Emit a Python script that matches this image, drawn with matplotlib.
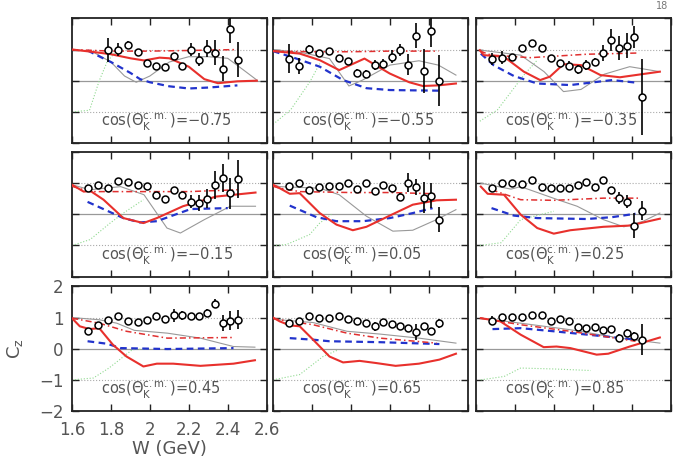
import matplotlib
matplotlib.use("Agg")
from matplotlib import pyplot as plt

# W bins of the measured points (GeV)
W_BINS = [1.68, 1.733, 1.786, 1.838, 1.889, 1.938, 1.986, 2.032, 2.08, 2.123,
          2.166, 2.21, 2.251, 2.292, 2.334, 2.375, 2.414, 2.451]

COS_LABELS = ['−0.75', '−0.55', '−0.35', '−0.15', '0.05', '0.25', '0.45', '0.65', '0.85']

# measured Cz and errors, one pair per angle bin
cz_n075 = [0.98, 1.0, 1.16, 0.93, 0.57, 0.48, 0.45, 0.79, 0.48, 1.0, 0.68, 1.03, 0.90, 0.39, 1.65, 0.68]
dcz_n075 = [0.38, 0.22, 0.1, 0.05, 0.05, 0.05, 0.1, 0.1, 0.1, 0.2, 0.2, 0.27, 0.4, 0.4, 0.45, 0.55]
cz_n055 = [0.71, 0.48, 1.01, 0.89, 0.96, 0.74, 0.63, 0.26, 0.23, 0.5, 0.55, 0.77, 0.98, 0.52, 1.44, 0.31, 1.59, 0.0]
dcz_n055 = [0.46, 0.25, 0.15, 0.07, 0.05, 0.05, 0.07, 0.1, 0.12, 0.15, 0.15, 0.2, 0.2, 0.35, 0.4, 0.72, 0.5, 0.82]
cz_n035 = [0.69, 0.74, 0.77, 1.06, 1.21, 1.06, 0.74, 0.57, 0.48, 0.36, 0.5, 0.6, 0.89, 1.30, 1.05, 1.12, 1.40, -0.51]
dcz_n035 = [0.2, 0.2, 0.1, 0.04, 0.04, 0.04, 0.07, 0.1, 0.15, 0.15, 0.15, 0.12, 0.25, 0.35, 0.4, 0.4, 0.35, 1.22]
cz_n015 = [0.84, 0.95, 0.86, 1.07, 1.05, 0.95, 0.91, 0.61, 0.49, 0.79, 0.63, 0.41, 0.36, 0.5, 0.93, 1.18, 0.68, 1.14]
dcz_n015 = [0.08, 0.05, 0.05, 0.03, 0.03, 0.03, 0.03, 0.05, 0.07, 0.07, 0.1, 0.2, 0.25, 0.3, 0.45, 0.45, 0.5, 0.6]
cz_p005 = [0.91, 1.02, 0.79, 0.89, 0.91, 0.91, 1.0, 0.81, 1.0, 0.76, 0.93, 0.86, 0.57, 1.02, 0.87, 0.54, 0.6, -0.17]
dcz_p005 = [0.05, 0.05, 0.05, 0.04, 0.04, 0.04, 0.04, 0.05, 0.05, 0.05, 0.06, 0.08, 0.1, 0.3, 0.25, 0.5, 0.4, 0.4]
cz_p025 = [0.84, 1.0, 1.0, 0.97, 1.09, 0.89, 0.84, 0.86, 0.86, 0.95, 1.05, 0.89, 1.09, 0.79, 0.52, 0.41, -0.36, 0.12]
dcz_p025 = [0.1, 0.04, 0.04, 0.04, 0.04, 0.04, 0.04, 0.04, 0.04, 0.04, 0.05, 0.05, 0.07, 0.1, 0.2, 0.2, 0.4, 0.3]
cz_p045 = [0.56, 0.76, 0.92, 1.04, 0.9, 0.86, 0.93, 1.04, 0.96, 1.07, 1.07, 1.05, 1.06, 1.16, 1.45, 0.82, 0.9, 0.93]
dcz_p045 = [0.1, 0.05, 0.04, 0.04, 0.04, 0.04, 0.04, 0.04, 0.05, 0.2, 0.15, 0.05, 0.05, 0.1, 0.15, 0.25, 0.3, 0.3]
cz_p065 = [0.82, 0.9, 1.04, 1.0, 0.98, 1.04, 0.95, 0.9, 0.84, 0.72, 0.86, 0.79, 0.74, 0.66, 0.53, 0.72, 0.56, 0.82]
dcz_p065 = [0.07, 0.05, 0.03, 0.03, 0.03, 0.03, 0.03, 0.03, 0.04, 0.15, 0.04, 0.04, 0.04, 0.05, 0.25, 0.05, 0.1, 0.15]
cz_p085 = [0.9, 1.02, 1.01, 1.02, 1.09, 1.07, 0.9, 0.95, 0.88, 0.7, 0.66, 0.7, 0.59, 0.63, 0.36, 0.52, 0.4, 0.29]
dcz_p085 = [0.15, 0.03, 0.03, 0.03, 0.03, 0.03, 0.03, 0.03, 0.03, 0.03, 0.03, 0.03, 0.04, 0.05, 0.1, 0.1, 0.15, 0.5]

# model curves as (W, Cz) pairs
red_n075 = [(1.6, 1.0), (1.7, 0.93), (1.8, 0.85), (1.9, 0.72), (1.97, 0.65), (2.05, 0.74), (2.1, 0.72),
            (2.2, 0.45), (2.28, 0.05), (2.35, -0.08), (2.45, -0.02), (2.55, 0.0)]
rdd_n075 = [(1.6, 1.0), (1.8, 0.95), (2.0, 0.95), (2.2, 0.97), (2.45, 1.0)]
blu_n075 = [(1.68, 0.97), (1.75, 0.75), (1.8, 0.6), (1.9, 0.25), (1.95, 0.05), (2.0, -0.05), (2.1, -0.18),
            (2.2, -0.25), (2.3, -0.22), (2.45, -0.15)]
gry_n075 = [(1.6, 1.0), (1.7, 0.95), (1.8, 0.6), (1.87, 0.15), (1.93, -0.05), (2.0, 0.15), (2.1, 0.6),
            (2.2, 0.77), (2.3, 0.77), (2.4, 0.72), (2.48, 0.35), (2.55, 0.02)]
grn_n075 = [(1.6, -1.0), (1.69, -0.95), (1.74, 0.0), (1.78, 0.6), (1.82, 0.9)]

red_n055 = [(1.6, 0.95), (1.634, 0.93), (1.737, 0.87), (1.84, 0.66), (1.94, 0.34), (2.07, 0.71), (2.2, 0.23),
            (2.3, -0.05), (2.37, -0.17), (2.45, -0.15), (2.54, -0.09)]
rdd_n055 = [(1.6, 0.95), (1.8, 0.93), (2.0, 0.93), (2.2, 0.95), (2.45, 0.95)]
blu_n055 = [(1.6, 0.95), (1.72, 0.71), (1.84, 0.45), (1.96, 0.02), (2.08, -0.24), (2.2, -0.3), (2.45, -0.32)]
gry_n055 = [(1.6, 1.0), (1.75, 0.9), (1.89, 0.71), (1.99, -0.17), (2.06, 0.02), (2.2, 0.5), (2.35, 0.64),
            (2.45, 0.5), (2.54, 0.18)]
grn_n055 = [(1.6, -1.4), (1.69, -0.94), (1.79, -0.03), (1.84, 0.55)]

red_n035 = [(1.62, 0.98), (1.64, 0.82), (1.744, 0.77), (1.846, 0.29), (1.93, 0.02), (1.98, 0.13), (2.05, 0.53),
            (2.14, 0.5), (2.24, 0.18), (2.34, 0.11), (2.545, 0.29)]
rdd_n035 = [(1.62, 0.95), (1.68, 0.82), (1.88, 0.74), (2.17, 0.85), (2.44, 0.89)]
blu_n035 = [(1.625, 0.87), (1.69, 0.5), (1.795, 0.15), (1.915, -0.09), (2.085, -0.14), (2.3, 0.02), (2.42, -0.06)]
gry_n035 = [(1.625, 0.98), (1.83, 0.82), (1.95, 0.29), (2.05, -0.35), (2.14, -0.28), (2.26, 0.21), (2.39, 0.45),
            (2.545, 0.29)]
grn_n035 = [(1.62, -1.3), (1.71, -0.94), (1.846, 0.18), (1.915, 0.66)]

red_n015 = [(1.6, 0.95), (1.66, 0.73), (1.695, 0.75), (1.762, 0.47), (1.864, -0.12), (1.967, -0.28),
            (2.036, -0.12), (2.17, 0.26), (2.34, 0.57), (2.543, 0.70)]
rdd_n015 = [(1.6, 0.9), (1.693, 0.73), (2.0, 0.73), (2.2, 0.73), (2.45, 0.79)]
blu_n015 = [(1.68, 0.4), (1.864, -0.12), (1.95, -0.26), (2.036, -0.22), (2.21, 0.17), (2.4, 0.2)]
gry_n015 = [(1.6, 0.95), (1.693, 0.79), (1.85, 0.89), (1.97, 0.63), (2.088, -0.44), (2.157, -0.6),
            (2.28, -0.17), (2.414, 0.26), (2.543, 0.26)]
grn_n015 = [(1.6, -1.0), (1.693, -0.81), (1.796, -0.28), (1.864, 0.04), (1.967, 0.47)]

red_p005 = [(1.6, 0.95), (1.634, 0.84), (1.686, 0.66), (1.737, 0.68), (1.84, 0.04), (1.926, -0.33),
            (2.01, -0.51), (2.08, -0.4), (2.2, -0.04), (2.318, 0.31), (2.44, 0.45), (2.54, 0.47)]
rdd_p005 = [(1.6, 0.9), (1.634, 0.84), (1.737, 0.73), (2.0, 0.7), (2.2, 0.7), (2.44, 0.66)]
blu_p005 = [(1.686, 0.28), (1.823, -0.09), (1.926, -0.22), (2.063, -0.22), (2.2, -0.12), (2.318, 0.04), (2.42, 0.2)]
gry_p005 = [(1.6, 0.95), (1.634, 0.89), (1.84, 0.84), (1.94, 0.63), (2.08, -0.06), (2.216, -0.54),
            (2.318, -0.51), (2.44, -0.17), (2.54, 0.15)]
grn_p005 = [(1.6, -1.0), (1.669, -0.97), (1.788, -0.65), (1.84, -0.28), (1.9, 0.0)]

red_p025 = [(1.625, 0.89), (1.66, 0.66), (1.744, 0.63), (1.83, -0.01), (1.915, -0.44), (2.0, -0.62),
            (2.085, -0.51), (2.255, -0.40), (2.39, -0.36), (2.545, -0.14)]
rdd_p025 = [(1.68, 0.79), (1.83, 0.47), (2.0, 0.45), (2.255, 0.52), (2.44, 0.52)]
blu_p025 = [(1.68, 0.2), (1.795, -0.04), (1.915, -0.12), (2.17, -0.15), (2.3, -0.09), (2.42, 0.02)]
gry_p025 = [(1.625, 1.0), (1.78, 0.81), (1.83, 0.89), (2.02, 0.47), (2.12, 0.26), (2.255, -0.17),
            (2.36, -0.40), (2.46, -0.22), (2.545, 0.04)]
grn_p025 = [(1.62, -1.0), (1.73, -0.91), (1.83, -0.17), (2.0, 0.1)]

red_p045 = [(1.6, 0.98), (1.64, 0.72), (1.69, 0.63), (1.74, 0.66), (1.81, 0.13), (1.88, -0.25), (1.967, -0.57),
            (2.036, -0.48), (2.12, -0.48), (2.26, -0.55), (2.43, -0.48), (2.54, -0.37)]
rdd_p045 = [(1.6, 0.98), (1.74, 0.82), (1.88, 0.56), (2.09, 0.34), (2.43, 0.36)]
blu_p045 = [(1.68, 0.24), (1.78, 0.16), (1.85, 0.02), (2.09, -0.01), (2.43, 0.02)]
gry_p045 = [(1.6, 1.0), (1.74, 0.93), (1.83, 0.82), (1.92, 0.59), (2.09, 0.5), (2.26, 0.34), (2.43, 0.07),
            (2.54, 0.05)]
grn_p045 = [(1.6, -1.0), (1.71, -0.94), (1.79, -0.62), (1.91, -0.03), (2.0, 0.0)]

red_p065 = [(1.6, 1.0), (1.634, 0.88), (1.686, 0.75), (1.737, 0.72), (1.806, 0.29), (1.89, -0.25), (1.96, -0.44),
            (2.045, -0.39), (2.13, -0.46), (2.23, -0.55), (2.35, -0.48), (2.455, -0.35), (2.54, -0.16)]
rdd_p065 = [(1.6, 0.97), (1.634, 0.93), (1.806, 0.77), (1.98, 0.5), (2.15, 0.34), (2.44, 0.18)]
blu_p065 = [(1.686, 0.34), (1.806, 0.29), (1.89, 0.24), (2.15, 0.21), (2.455, 0.15)]
gry_p065 = [(1.6, 0.97), (1.634, 0.93), (1.806, 0.84), (1.98, 0.56), (2.15, 0.47), (2.35, 0.34), (2.54, 0.18)]
grn_p065 = [(1.6, -1.0), (1.737, -0.83), (1.857, -0.25), (1.93, -0.05)]

red_p085 = [(1.625, 0.98), (1.725, 0.88), (1.83, 0.45), (1.948, 0.05), (2.014, 0.07), (2.085, 0.02),
            (2.22, -0.19), (2.28, -0.16), (2.39, 0.07), (2.545, 0.36)]
rdd_p085 = [(1.625, 0.98), (1.83, 0.77), (2.085, 0.56), (2.42, 0.24)]
blu_p085 = [(1.685, 0.63), (1.83, 0.66), (2.0, 0.56), (2.255, 0.4), (2.42, 0.29)]
gry_p085 = [(1.625, 0.98), (1.83, 0.82), (2.085, 0.61), (2.34, 0.34), (2.545, 0.18)]
grn_p085 = [(1.625, -1.0), (1.745, -0.89), (1.83, -0.62), (2.0, -0.65), (2.19, -0.7)]

PANELS = [
    (cz_n075, dcz_n075, red_n075, rdd_n075, blu_n075, gry_n075, grn_n075),
    (cz_n055, dcz_n055, red_n055, rdd_n055, blu_n055, gry_n055, grn_n055),
    (cz_n035, dcz_n035, red_n035, rdd_n035, blu_n035, gry_n035, grn_n035),
    (cz_n015, dcz_n015, red_n015, rdd_n015, blu_n015, gry_n015, grn_n015),
    (cz_p005, dcz_p005, red_p005, rdd_p005, blu_p005, gry_p005, grn_p005),
    (cz_p025, dcz_p025, red_p025, rdd_p025, blu_p025, gry_p025, grn_p025),
    (cz_p045, dcz_p045, red_p045, rdd_p045, blu_p045, gry_p045, grn_p045),
    (cz_p065, dcz_p065, red_p065, rdd_p065, blu_p065, gry_p065, grn_p065),
    (cz_p085, dcz_p085, red_p085, rdd_p085, blu_p085, gry_p085, grn_p085),
]

TEXT = '#555555'
LEFTS = [0.1062, 0.4027, 0.702]
BOTTOMS = [0.6878, 0.396, 0.1026]
WIDTH, HEIGHT = 0.287, 0.272


def xy(curve):
    return [p[0] for p in curve], [p[1] for p in curve]


def main():
    fig = plt.figure(figsize=(6.78, 4.58), dpi=100)

    for i, (cz, dcz, red, rdd, blu, gry, grn) in enumerate(PANELS):
        row, col = divmod(i, 3)
        ax = fig.add_axes([LEFTS[col], BOTTOMS[row], WIDTH, HEIGHT])
        ax.set_xlim(1.6, 2.6)
        ax.set_ylim(-2, 2)

        ax.axhline(0, color='#999999', lw=0.9, zorder=1)
        ax.axhline(1, color='#aaaaaa', lw=0.8, ls=':', zorder=1)
        ax.axhline(-1, color='#aaaaaa', lw=0.8, ls=':', zorder=1)

        ax.plot(*xy(grn), color='#8fd98f', lw=0.8, ls=':', zorder=2)
        ax.plot(*xy(gry), color='#999999', lw=0.8, zorder=2)
        ax.plot(*xy(blu), color='#2233cc', lw=1.6, ls=(0, (3, 2)), zorder=3)
        ax.plot(*xy(rdd), color='#e03030', lw=1.1, ls=(0, (4, 2, 1, 2)), zorder=3)
        ax.plot(*xy(red), color='#e8302c', lw=1.5, zorder=4)

        w = W_BINS[len(W_BINS) - len(cz):]
        ax.errorbar(w, cz, yerr=dcz, fmt='o', ms=5, mfc='white', mec='black', mew=1.1,
                    ecolor='black', elinewidth=1.2, capsize=0, zorder=5)

        ax.text(0.15, 0.165, r'cos($\Theta_{\rm K}^{\rm c.m.}$)=' + COS_LABELS[i],
                transform=ax.transAxes, fontsize=10.5, color=TEXT, va='center')

        ax.set_xticks([1.6, 1.8, 2.0, 2.2, 2.4, 2.6])
        ax.set_yticks([-2, -1, 0, 1, 2])
        ax.tick_params(direction='in', length=5, width=1, top=True, right=True,
                       colors='#222222', labelcolor=TEXT, labelsize=12)
        ax.tick_params(axis='x', pad=7)
        ax.tick_params(axis='y', pad=6)
        for s in ax.spines.values():
            s.set_linewidth(1.3)
            s.set_color('#222222')

        if row == 2 and col == 0:
            ax.set_xticklabels(['1.6', '1.8', '2', '2.2', '2.4', '2.6'])
            ax.set_yticklabels(['−2', '−1', '0', '1', '2'])
            ax.set_xlabel('W (GeV)', fontsize=13, color=TEXT, labelpad=1)
            ax.set_ylabel(r'C$_{\rm z}$', fontsize=13, color=TEXT, labelpad=10)
        else:
            ax.set_xticklabels([])
            ax.set_yticklabels([])

    fig.text(0.985, 0.998, '18', fontsize=7, color='#777777', ha='right', va='top')
    fig.savefig('out.png', dpi=100)


if __name__ == "__main__":
    main()
